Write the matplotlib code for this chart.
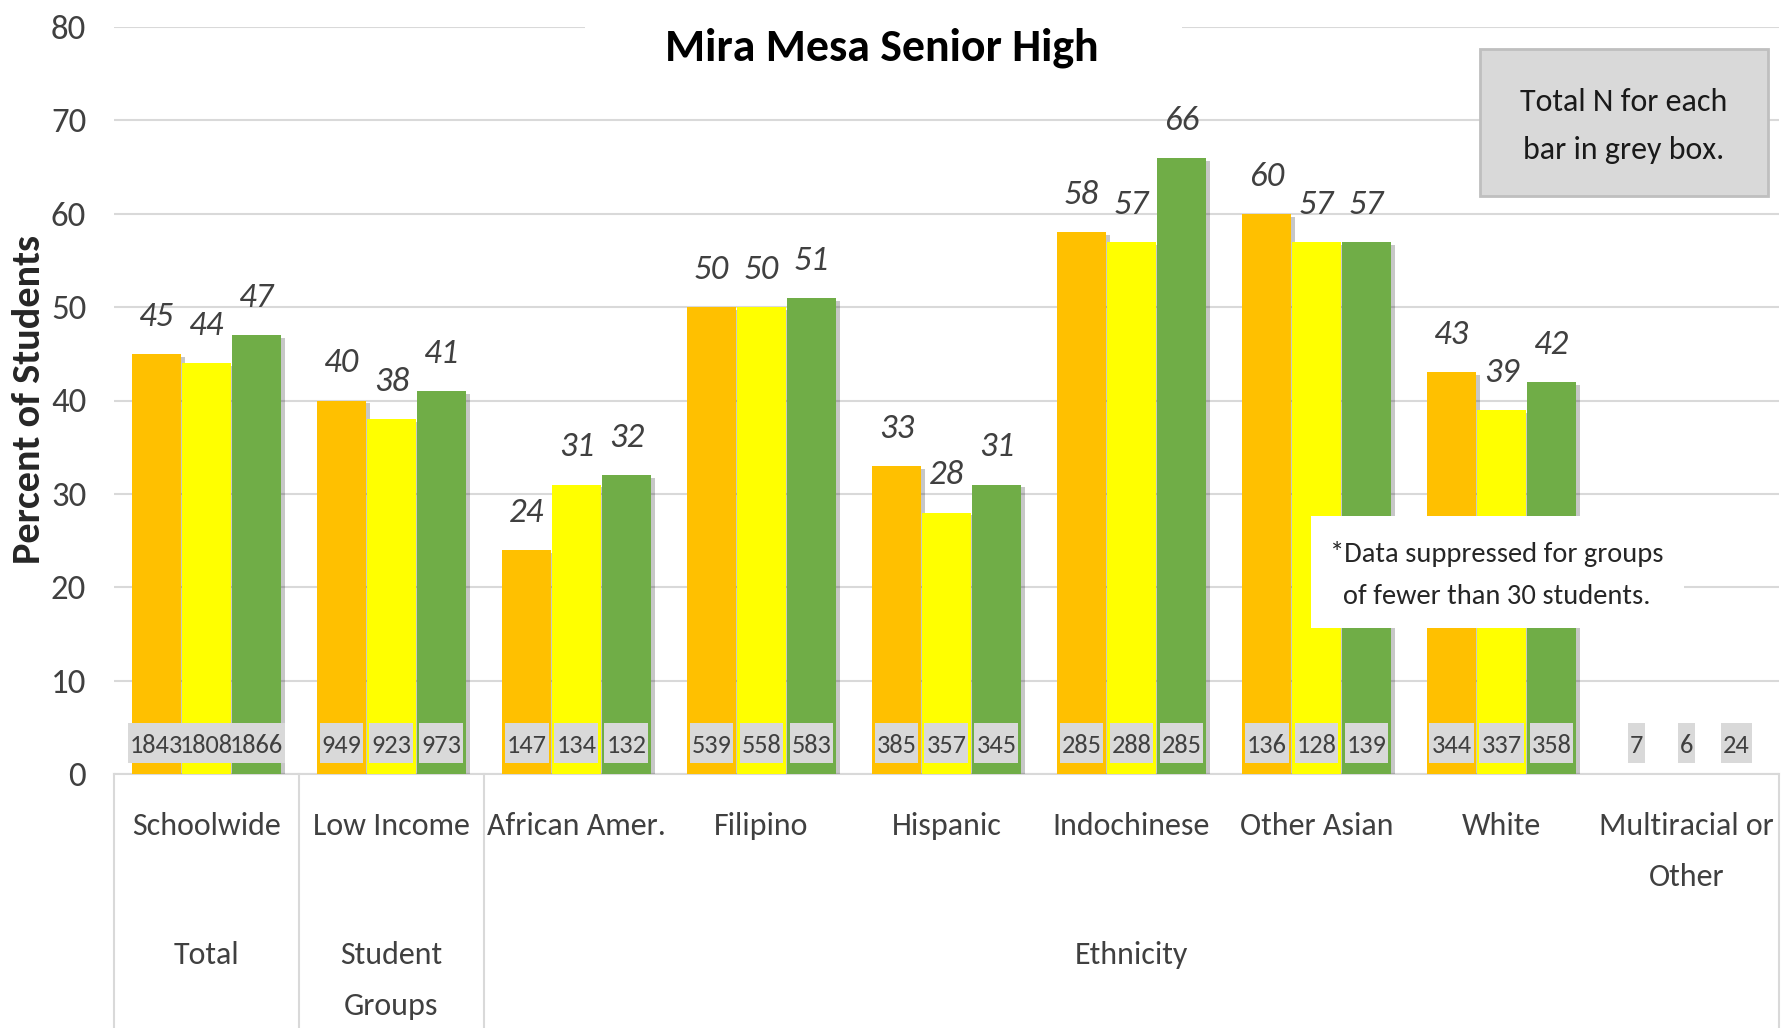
import numpy as np
import matplotlib.pyplot as plt
import matplotlib.patheffects as pe
from matplotlib.patches import Rectangle

# data
categories = ['Schoolwide', 'Low Income', 'African Amer.', 'Filipino', 'Hispanic',
              'Indochinese', 'Other Asian', 'White', 'Multiracial or\nOther']
group_names = ['Total', 'Student\nGroups', 'Ethnicity']
group_first = [0, 1, 2]
group_last = [0, 1, 8]

pct_orange = [45, 40, 24, 50, 33, 58, 60, 43, None]
pct_yellow = [44, 38, 31, 50, 28, 57, 57, 39, None]
pct_green = [47, 41, 32, 51, 31, 66, 57, 42, None]

n_orange = [1843, 949, 147, 539, 385, 285, 136, 344, 7]
n_yellow = [1808, 923, 134, 558, 357, 288, 128, 337, 6]
n_green = [1866, 973, 132, 583, 345, 285, 139, 358, 24]

colors = ['#FFC000', '#FFFF00', '#70AD47']
txt = '#404040'

plt.rcParams['font.family'] = ['Carlito', 'DejaVu Sans']

W, H = 1790, 1028
fig = plt.figure(figsize=(W / 100, H / 100), dpi=100)
ax = fig.add_axes([114 / W, 1 - 774 / H, (1779 - 114) / W, (774 - 27) / H])

x = np.arange(len(categories))
offsets = [-0.27, 0.0, 0.27]
width = 0.265
shadow = [pe.SimplePatchShadow(offset=(3, -2), shadow_rgbFace='black', alpha=0.22), pe.Normal()]

n_texts = []
for vals, ns, off, col in zip([pct_orange, pct_yellow, pct_green],
                              [n_orange, n_yellow, n_green], offsets, colors):
    xs = x + off
    ok = [v is not None for v in vals]
    xv = xs[ok]
    hv = [v for v in vals if v is not None]
    ax.bar(xv, hv, width, color=col, zorder=3, path_effects=shadow)
    for xi, v in zip(xv, hv):
        ax.annotate(str(v), (xi, v), xytext=(0, 16), textcoords='offset points',
                    ha='center', va='bottom', fontsize=25, style='italic', color=txt)
    for xi, n in zip(xs, ns):
        n_texts.append(ax.text(xi, 3.1, str(n), ha='center', va='center', fontsize=19,
                               color=txt, zorder=5))

ax.set_xlim(-0.5, len(categories) - 0.5)
ax.set_ylim(0, 80)
ax.set_yticks(range(0, 81, 10))
ax.set_xticks([])
ax.tick_params(axis='y', length=0, pad=20, labelsize=25, labelcolor=txt)
ax.yaxis.grid(True, color='#D9D9D9', linewidth=1.5)
ax.set_axisbelow(True)
for s in ['top', 'right', 'left']:
    ax.spines[s].set_visible(False)
ax.spines['bottom'].set_color('#D9D9D9')
ax.spines['bottom'].set_linewidth(1.5)

# category axis: labels and group separators
xt = ax.get_xaxis_transform()
for i, name in enumerate(categories):
    ax.text(i, -0.0515, name, transform=xt, ha='center', va='top',
            fontsize=23, color=txt, linespacing=2.0, clip_on=False)
for name, a, b in zip(group_names, group_first, group_last):
    ax.text((a + b) / 2, -0.224, name, transform=xt, ha='center', va='top',
            fontsize=23, color=txt, linespacing=2.0, clip_on=False)
for sx in [-0.5, 0.5, 1.5, len(categories) - 0.5]:
    ax.plot([sx, sx], [0, -0.4], transform=xt, color='#D9D9D9', lw=1.5, clip_on=False)

# title over a white patch that breaks the top gridline
fig.add_artist(Rectangle((585 / W, 1 - 70 / H), 597 / W, 60 / H, transform=fig.transFigure,
                         fc='white', ec='none', zorder=5))
fig.text(882 / W, 1 - 48 / H, 'Mira Mesa Senior High', ha='center', va='center',
         fontsize=33, fontweight='bold', color='black', zorder=6)

fig.text(29 / W, 1 - 400 / H, 'Percent of Students', rotation=90, ha='center', va='center',
         fontsize=29, fontweight='bold', color='#262626')

# grey note box
fig.add_artist(Rectangle((1480 / W, 1 - 196 / H), 288 / W, 147 / H, transform=fig.transFigure,
                         fc='#D9D9D9', ec='#BFBFBF', lw=2, zorder=5))
fig.text(1624 / W, 1 - 126 / H, 'Total N for each\nbar in grey box.', ha='center', va='center',
         fontsize=23, color='#1a1a1a', linespacing=1.85, zorder=6)

# white suppression note
fig.add_artist(Rectangle((1311 / W, 1 - 628 / H), 373 / W, 112 / H, transform=fig.transFigure,
                         fc='white', ec='none', zorder=5))
fig.text(1497 / W, 1 - 575 / H, '*Data suppressed for groups\nof fewer than 30 students.',
         ha='center', va='center', fontsize=20.5, color='#262626', linespacing=1.85, zorder=6)

# grey boxes behind the N labels, sized to each label
fig.canvas.draw()
r = fig.canvas.get_renderer()
inv = ax.transData.inverted()
for t in n_texts:
    bb = t.get_window_extent(r)
    x0 = inv.transform((bb.x0 - 2, 0))[0]
    x1 = inv.transform((bb.x1 + 2, 0))[0]
    ax.add_patch(Rectangle((x0, 1.2), x1 - x0, 4.25, fc='#D9D9D9', ec='none', zorder=4))

fig.savefig('out.png', dpi=100)
